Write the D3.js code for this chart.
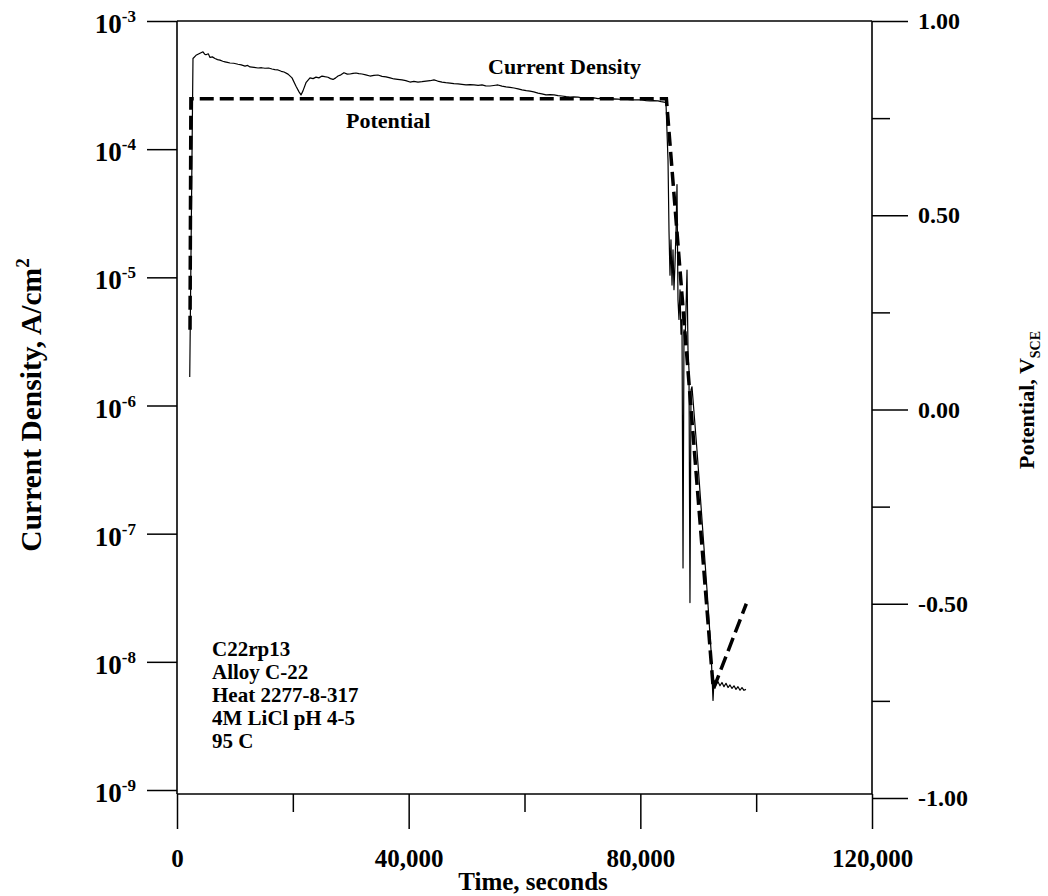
<!DOCTYPE html>
<html>
<head>
<meta charset="utf-8">
<script src="https://cdn.jsdelivr.net/npm/d3@7"></script>
<style>
  body { margin: 0; background: #fff; }
  text { font-family: "Liberation Serif", "Times New Roman", serif; font-weight: bold; fill: #000; }
</style>
</head>
<body>
<svg id="chart"></svg>
<script>
// time (s) and current density (A/cm2)
var timeCur = [2200, 2760, 3280, 3970, 4490, 4800, 5000, 5400, 5700, 6100, 6560, 7000, 7420, 7900, 8290, 8700, 9150, 9800,
  10530, 11100, 11740, 12200, 12600, 13300, 13990, 14600, 15190, 15800, 16400, 16900, 17440, 18000, 18480, 19170, 19860,
  20550, 21070, 21410, 21750, 22270, 22960, 23500, 24000, 24500, 25040, 25500, 26070, 26500, 26940, 27400, 27800, 28300,
  28830, 29400, 29870, 30400, 30900, 31400, 31940, 32600, 33320, 34000, 34700, 35400, 36090, 36800, 37470, 38100, 38850,
  39500, 40230, 40900, 41610, 42300, 42990, 43700, 44370, 45000, 45760, 46400, 47140, 47800, 48520, 49200, 49900, 50600,
  51280, 52000, 52660, 53300, 54040, 54700, 55420, 56100, 56810, 57500, 58190, 58900, 59570, 60300, 60950, 61600, 62330,
  63000, 63710, 64400, 65090, 65800, 66470, 67200, 67860, 68500, 69240, 69900, 70620, 71300, 72000, 72700, 73380, 74100,
  74760, 75400, 76140, 76800, 77520, 78200, 78910, 79600, 80290, 81000, 81670, 82300, 83050, 83600, 84090, 84430, 84780,
  84950, 85120, 85290, 85470, 85640, 85810, 85980, 86160, 86330, 86500, 86670, 86850, 87020, 87190, 87370, 87540, 87710,
  87880, 88060, 88230, 88400, 88570, 88750, 88920, 89780, 90650, 91510, 92200, 92550, 92720, 93060, 93410, 93750, 94100,
  94440, 94790, 95140, 95480, 95830, 96170, 96520, 96860, 97210, 97550, 97900, 98240];
var curDensity = [1.67e-6, 5.1e-4, 5.4e-4, 5.6e-4, 5.75e-4, 5.5e-4, 5.45e-4, 5.55e-4, 5.2e-4, 5.25e-4, 5.1e-4, 5.0e-4, 4.95e-4, 4.85e-4, 4.8e-4, 4.75e-4, 4.7e-4, 4.68e-4,
  4.6e-4, 4.55e-4, 4.45e-4, 4.5e-4, 4.38e-4, 4.35e-4, 4.3e-4, 4.32e-4, 4.28e-4, 4.3e-4, 4.22e-4, 4.18e-4, 4.15e-4, 4.05e-4, 4.0e-4, 3.85e-4, 3.6e-4,
  3.1e-4, 2.8e-4, 2.65e-4, 2.85e-4, 3.3e-4, 3.6e-4, 3.55e-4, 3.65e-4, 3.6e-4, 3.72e-4, 3.68e-4, 3.64e-4, 3.55e-4, 3.5e-4, 3.6e-4, 3.72e-4, 3.8e-4,
  3.95e-4, 3.85e-4, 3.86e-4, 3.9e-4, 3.93e-4, 3.88e-4, 3.86e-4, 3.8e-4, 3.72e-4, 3.76e-4, 3.79e-4, 3.7e-4, 3.66e-4, 3.6e-4, 3.53e-4, 3.5e-4, 3.47e-4,
  3.43e-4, 3.34e-4, 3.38e-4, 3.34e-4, 3.36e-4, 3.4e-4, 3.42e-4, 3.47e-4, 3.4e-4, 3.34e-4, 3.3e-4, 3.28e-4, 3.25e-4, 3.23e-4, 3.2e-4, 3.17e-4, 3.19e-4,
  3.17e-4, 3.15e-4, 3.17e-4, 3.12e-4, 3.11e-4, 3.14e-4, 3.17e-4, 3.1e-4, 3.06e-4, 3.03e-4, 3.0e-4, 2.95e-4, 2.9e-4, 2.86e-4, 2.84e-4, 2.8e-4, 2.74e-4,
  2.7e-4, 2.65e-4, 2.66e-4, 2.65e-4, 2.62e-4, 2.6e-4, 2.57e-4, 2.55e-4, 2.56e-4, 2.55e-4, 2.52e-4, 2.51e-4, 2.5e-4, 2.51e-4, 2.48e-4, 2.5e-4, 2.47e-4,
  2.46e-4, 2.47e-4, 2.46e-4, 2.44e-4, 2.46e-4, 2.43e-4, 2.42e-4, 2.43e-4, 2.42e-4, 2.39e-4, 2.38e-4, 2.39e-4, 2.38e-4, 2.35e-4, 2.33e-4, 2.29e-4, 8.2e-5,
  2.3e-5, 1.04e-5, 1.96e-5, 8.7e-6, 1.64e-5, 8.0e-6, 1.25e-5, 2.3e-5, 5.3e-5, 6.7e-6, 4.7e-6, 8.0e-6, 3.6e-6, 4.7e-6, 5.4e-8, 3.9e-6, 3.0e-6,
  5.6e-6, 1.14e-5, 2.7e-6, 1.9e-6, 2.9e-8, 1.32e-6, 1.4e-6, 4.5e-7, 1.28e-7, 3.65e-8, 1.24e-8, 5.0e-9, 7.2e-9, 6.6e-9, 7.0e-9, 6.5e-9, 6.9e-9,
  6.4e-9, 6.8e-9, 6.3e-9, 6.6e-9, 6.2e-9, 6.5e-9, 6.1e-9, 6.4e-9, 6.0e-9, 6.3e-9, 6.0e-9, 6.1e-9];

// applied potential (V SCE)
var timePot = [2250, 2400, 84500, 92600, 98300];
var potential = [0.205, 0.80, 0.80, -0.72, -0.50];

var xTicks = [0, 40000, 80000, 120000];
var xMinor = [20000, 60000, 100000];
var curTicks = [1e-3, 1e-4, 1e-5, 1e-6, 1e-7, 1e-8, 1e-9];
var curExp = ["-3", "-4", "-5", "-6", "-7", "-8", "-9"];
var potTicks = [1, 0.5, 0, -0.5, -1];
var potMinor = [0.75, 0.25, -0.25, -0.75];
var notes = ["C22rp13", "Alloy C-22", "Heat 2277-8-317", "4M LiCl pH 4-5", "95 C"];

var width = 1048, height = 896;
var frameL = 177, frameR = 872, frameT = 21, frameB = 794;

var svg = d3.select("#chart").attr("width", width).attr("height", height);
svg.append("rect").attr("width", width).attr("height", height).attr("fill", "#fff");

var x = d3.scaleLinear().domain([0, 120000]).range([frameL, frameR]);
var yCur = d3.scaleLog().domain([1e-9, 1e-3]).range([790, frameT]);
var yPot = d3.scaleLinear().domain([-1, 1]).range([798, frameT]);

function styleAxis(g) {
  g.select(".domain").remove();
  g.selectAll("line").attr("stroke", "#000").attr("stroke-width", 1.5);
  g.selectAll("text").attr("font-family", "'Liberation Serif', 'Times New Roman', serif")
    .attr("font-weight", "bold").attr("fill", "#000");
}

// frame
var frame = svg.append("g").attr("stroke", "#000").attr("stroke-width", 1.6);
frame.append("line").attr("x1", frameL).attr("x2", frameL).attr("y1", frameT).attr("y2", frameB);
frame.append("line").attr("x1", frameR).attr("x2", frameR).attr("y1", frameT).attr("y2", frameB);
frame.append("line").attr("x1", frameL).attr("x2", frameR).attr("y1", frameT).attr("y2", frameT);
frame.append("line").attr("x1", frameL).attr("x2", frameR).attr("y1", frameB).attr("y2", frameB);

// bottom axis
svg.append("g").attr("transform", "translate(0," + frameB + ")")
  .call(d3.axisBottom(x).tickValues(xTicks).tickSize(35).tickPadding(20).tickFormat(d3.format(",")))
  .call(styleAxis)
  .selectAll("text").attr("font-size", 25);
svg.append("g").attr("transform", "translate(0," + frameB + ")")
  .call(d3.axisBottom(x).tickValues(xMinor).tickSize(18).tickFormat(""))
  .call(styleAxis);

// left log axis
var gl = svg.append("g").attr("transform", "translate(" + frameL + ",0)")
  .call(d3.axisLeft(yCur).tickValues(curTicks).tickSize(30).tickFormat(""))
  .call(styleAxis);
gl.selectAll("text").remove();
curTicks.forEach(function(d, i) {
  var t = svg.append("text")
    .attr("x", 136).attr("y", yCur(d) + 12)
    .attr("text-anchor", "end").attr("font-size", 27);
  t.append("tspan").text("10");
  t.append("tspan").attr("dy", -11).attr("font-size", 17).text(curExp[i]);
});

// right potential axis
svg.append("g").attr("transform", "translate(" + frameR + ",0)")
  .call(d3.axisRight(yPot).tickValues(potTicks).tickSize(36).tickPadding(10)
    .tickFormat(function(d) { return d.toFixed(2); }))
  .call(styleAxis)
  .selectAll("text").attr("font-size", 24);
svg.append("g").attr("transform", "translate(" + frameR + ",0)")
  .call(d3.axisRight(yPot).tickValues(potMinor).tickSize(18).tickFormat(""))
  .call(styleAxis);

// axis titles
svg.append("text").attr("x", 533).attr("y", 890).attr("text-anchor", "middle")
  .attr("font-size", 25).text("Time, seconds");

var lt = svg.append("text").attr("transform", "translate(41,405) rotate(-90)")
  .attr("text-anchor", "middle").attr("font-size", 29.5);
lt.append("tspan").text("Current Density, A/cm");
lt.append("tspan").attr("dy", -12).attr("font-size", 19).text("2");

var rt = svg.append("text").attr("transform", "translate(1034,400) rotate(-90)")
  .attr("text-anchor", "middle").attr("font-size", 22);
rt.append("tspan").text("Potential, V");
rt.append("tspan").attr("dy", 6).attr("font-size", 14).text("SCE");

// data lines
var curData = timeCur.map(function(t, i) { return {t: t, v: curDensity[i]}; });
var potData = timePot.map(function(t, i) { return {t: t, v: potential[i]}; });

var curLine = d3.line()
  .x(function(d) { return x(d.t); })
  .y(function(d) { return yCur(d.v); });
var potLine = d3.line()
  .x(function(d) { return x(d.t); })
  .y(function(d) { return yPot(d.v); });

svg.append("path").attr("fill", "none").attr("stroke", "#000")
  .attr("stroke-width", 3.5).attr("stroke-dasharray", "14,6")
  .attr("d", potLine(potData));
svg.append("path").attr("fill", "none").attr("stroke", "#000")
  .attr("stroke-width", 1.2).attr("stroke-linejoin", "round")
  .attr("d", curLine(curData));

// series labels
svg.append("text").attr("x", 488).attr("y", 74).attr("font-size", 22).text("Current Density");
svg.append("text").attr("x", 346).attr("y", 128).attr("font-size", 22).text("Potential");

// sample notes
svg.append("g").selectAll("text")
  .data(notes)
  .enter()
  .append("text")
  .attr("x", 212)
  .attr("y", function(d, i) { return 656 + i * 23; })
  .attr("font-size", 21)
  .text(function(d) { return d; });
</script>
</body>
</html>
